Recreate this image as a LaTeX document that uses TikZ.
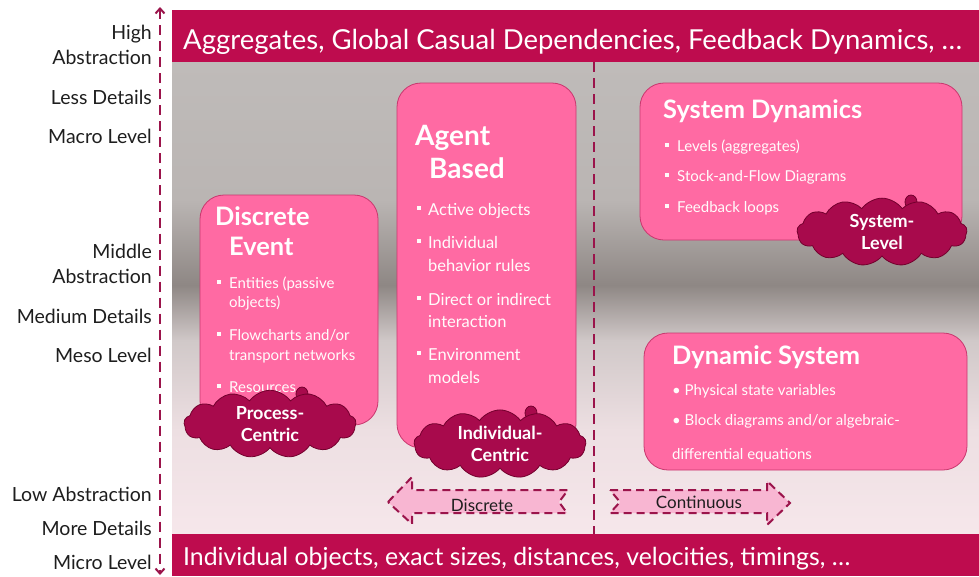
\documentclass[tikz,border=0pt]{standalone}
\usepackage{fontspec}
\setmainfont{Lato}
\usetikzlibrary{shapes.symbols,shapes.geometric,arrows.meta}
\definecolor{crim}{RGB}{190,12,78}
\definecolor{pinkbox}{RGB}{255,106,163}
\definecolor{boxedge}{RGB}{200,55,110}
\definecolor{cloudfill}{RGB}{168,10,76}
\definecolor{cloudedge}{RGB}{115,0,45}
\definecolor{dashcol}{RGB}{155,20,75}
\definecolor{arrfill}{RGB}{248,182,210}
\definecolor{lbltext}{RGB}{30,30,30}
\tikzset{
  lbl/.style={anchor=base east,font=\fontsize{19.5}{21}\selectfont,text=lbltext,inner sep=0pt},
  boxshape/.style={fill=pinkbox,draw=boxedge,line width=0.8pt,rounded corners=24pt},
  ttl/.style={anchor=base west,font=\fontsize{25.4}{27}\selectfont\bfseries,text=white,inner sep=0pt},
  bigttl/.style={ttl,font=\fontsize{28}{30}\selectfont\bfseries},
  itm/.style={anchor=base west,font=\fontsize{15}{17}\selectfont,text=white!96!pink,inner sep=0pt},
  bigitm/.style={itm,font=\fontsize{16.5}{18}\selectfont},
  sq/.style={fill=white!92!pink,minimum size=4.6pt,inner sep=0pt},
  cloudbox/.style={cloud,cloud puffs=13,cloud puff arc=110,aspect=3.1,fill=cloudfill,draw=cloudedge,line width=0.8pt,
     text=white,font=\fontsize{18}{22}\selectfont\bfseries,align=center,inner sep=0pt},
  bub/.style={fill=cloudfill,draw=cloudedge,line width=0.8pt,ellipse,inner sep=0pt,minimum width=12pt,minimum height=14pt},
  dline/.style={draw=dashcol,line width=2.6pt,dash pattern=on 10pt off 6pt},
  notch/.style={fill=arrfill,draw=dashcol,line width=2pt,dash pattern=on 8pt off 5pt},
  bartext/.style={anchor=base west,font=\fontsize{27.5}{29}\selectfont,text=white,inner sep=0pt},
  arrtext/.style={font=\fontsize{17}{19}\selectfont,text=lbltext,inner sep=0pt,anchor=base},
}
\begin{document}
\begin{tikzpicture}[x=1pt,y=-1pt]
\useasboundingbox (0,0) rectangle (979,576);
\fill[white] (0,0) rectangle (979,576);
% background panel
\fill[top color={rgb,255:red,191;green,187;blue,185},bottom color={rgb,255:red,186;green,181;blue,179}] (172,61) rectangle (979,200.5);
\fill[top color={rgb,255:red,186;green,181;blue,179},bottom color={rgb,255:red,142;green,135;blue,132}] (172,200) rectangle (979,285.5);
\fill[top color={rgb,255:red,142;green,135;blue,132},bottom color={rgb,255:red,208;green,200;blue,200}] (172,285) rectangle (979,340.5);
\fill[top color={rgb,255:red,208;green,200;blue,200},bottom color={rgb,255:red,237;green,223;blue,226}] (172,340) rectangle (979,430.5);
\fill[top color={rgb,255:red,237;green,223;blue,226},bottom color={rgb,255:red,246;green,231;blue,235}] (172,430) rectangle (979,535);
% bars
\fill[crim] (172,10) rectangle (979,62);
\fill[crim] (172,534) rectangle (979,576);
\node[bartext] (toptext) at (183,49) {Aggregates, Global Casual Dependencies, Feedback Dynamics, …};
\node[bartext,font=\fontsize{24.8}{27}\selectfont] (bottext) at (183,565) {Individual objects, exact sizes, distances, velocities, timings, …};
% divider
\coordinate (divtop) at (594,62);
\coordinate (divbot) at (594,534);
\draw[dline] (divtop) -- (divbot);
% axis
\coordinate (axtop) at (160,7);
\coordinate (axbot) at (160,575);
\draw[dline,{Straight Barb[length=5pt,width=9pt,line width=2pt]}-{Straight Barb[length=5pt,width=9pt,line width=2pt]}] (axtop) -- (axbot);
% left labels
\node[lbl] (l1) at (152,39) {High};
\node[lbl] (l2) at (152,64) {Abstraction};
\node[lbl] (l3) at (152,104) {Less Details};
\node[lbl] (l4) at (152,143) {Macro Level};
\node[lbl] (l5) at (152,258) {Middle};
\node[lbl] (l6) at (152,283) {Abstraction};
\node[lbl] (l7) at (152,323) {Medium Details};
\node[lbl] (l8) at (152,362) {Meso Level};
\node[lbl] (l9) at (152,501) {Low Abstraction};
\node[lbl] (l10) at (152,535) {More Details};
\node[lbl] (l11) at (152,569) {Micro Level};
% Discrete Event box
\draw[boxshape] (200,195) rectangle (378,425);
\node[ttl] (de1) at (215,225) {Discrete};
\node[ttl] (de2) at (229,255) {Event};
\node[sq] (deb1) at (219,282) {};
\node[itm] (de3) at (229,288) {Entities (passive};
\node[itm] (de4) at (229,307) {objects)};
\node[sq] (deb2) at (219,334) {};
\node[itm] (de5) at (229,340) {Flowcharts and/or};
\node[itm] (de6) at (229,360) {transport networks};
\node[sq] (deb3) at (219,386) {};
\node[itm] (de7) at (229,392) {Resources};
% Agent Based box
\draw[boxshape] (397,83) rectangle (576,448);
\node[bigttl] (ab1) at (415,145) {Agent};
\node[bigttl] (ab2) at (429,178) {Based};
\node[sq] (abb1) at (419,208) {};
\node[bigitm] (ab3) at (428,215) {Active objects};
\node[sq] (abb2) at (419,241) {};
\node[bigitm] (ab4) at (428,248) {Individual};
\node[bigitm] (ab5) at (428,271) {behavior rules};
\node[sq] (abb3) at (419,298) {};
\node[bigitm] (ab6) at (428,305) {Direct or indirect};
\node[bigitm] (ab7) at (428,327) {interaction};
\node[sq] (abb4) at (419,353) {};
\node[bigitm] (ab8) at (428,360) {Environment};
\node[bigitm] (ab9) at (428,383) {models};
% System Dynamics box
\draw[boxshape] (640,83) rectangle (962,240);
\node[ttl] (sd1) at (663,118) {System Dynamics};
\node[sq] (sdb1) at (667,145) {};
\node[itm] (sd2) at (677,151) {Levels (aggregates)};
\node[sq] (sdb2) at (667,175) {};
\node[itm] (sd3) at (677,181) {Stock-and-Flow Diagrams};
\node[sq] (sdb3) at (667,206) {};
\node[itm] (sd4) at (677,212) {Feedback loops};
% Dynamic System box
\draw[boxshape] (644,333) rectangle (967,470);
\node[ttl] (ds1) at (672,364) {Dynamic System};
\node[itm] (ds2) at (672,395) {• Physical state variables};
\node[itm] (ds3) at (672,425) {• Block diagrams and/or algebraic-};
\node[itm] (ds4) at (672,459) {differential equations};
% clouds
\node[bub] (pcb) at (302,394) {};
\node[cloudbox,minimum width=172pt,minimum height=56pt] (pc) at (270,424) {Process-\\Centric};
\node[bub] (icb) at (531,413) {};
\node[cloudbox,minimum width=172pt,minimum height=54pt] (ic) at (500,444) {Individual-\\Centric};
\node[bub] (slb) at (911,202) {};
\node[cloudbox,minimum width=170pt,minimum height=54pt] (sl) at (882,232) {System-\\Level};
% notched arrows
\coordinate (dtip) at (388,502);
\coordinate (ctip) at (790,503);
\draw[notch] (dtip) -- (412,477) -- (412,490) -- (568,490) -- (559,502) -- (567,513) -- (412,513) -- (412,524) -- cycle;
\node[arrtext] (disc) at (482,511) {Discrete};
\draw[notch] (610,490) -- (767,490) -- (767,481) -- (ctip) -- (767,525) -- (767,513) -- (610,513) -- (620,502) -- cycle;
\node[arrtext] (cont) at (699,508) {Continuous};
\end{tikzpicture}
\end{document}
